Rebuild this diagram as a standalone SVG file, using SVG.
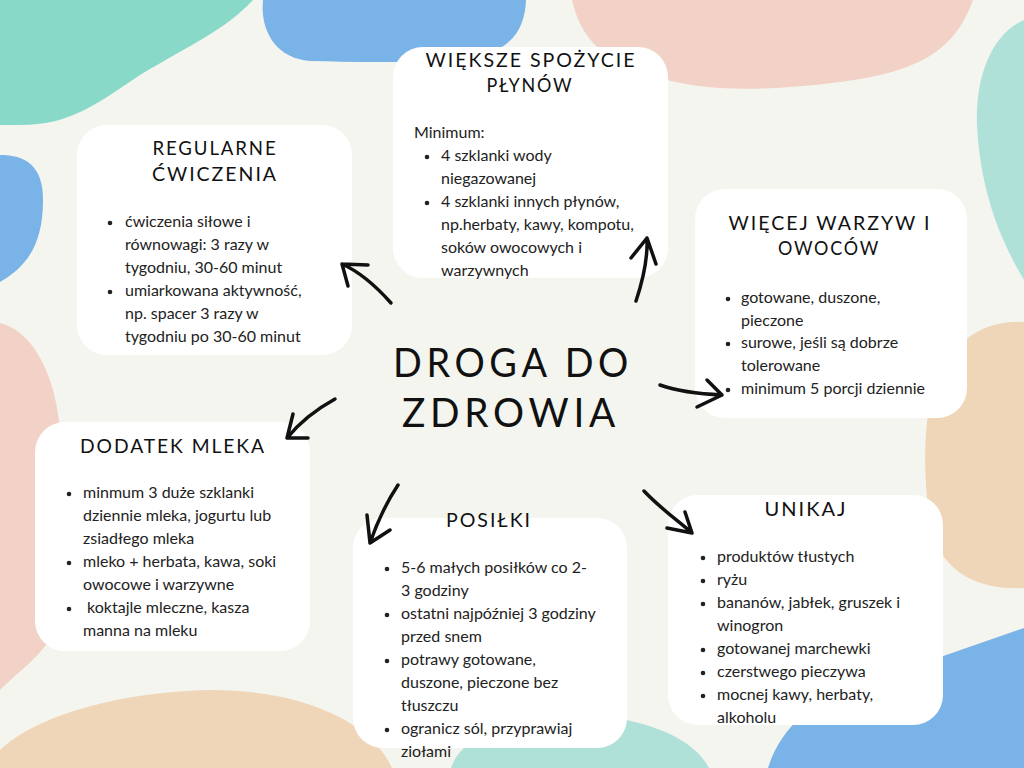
<svg xmlns="http://www.w3.org/2000/svg" width="1024" height="768" viewBox="0 0 1024 768">
<style>
.bg{fill:#f5f5f0}
.teal{fill:#88d9c8}
.teal2{fill:#afe1d9}
.blue{fill:#7ab3e7}
.pink{fill:#f2d2c6}
.beige{fill:#f0d6b9}
.box{fill:#ffffff}
.title{font-family:"Lato","DejaVu Sans",sans-serif;font-size:20px;fill:#111;text-anchor:middle;letter-spacing:2px}
.main{font-family:"Lato","DejaVu Sans",sans-serif;font-size:41px;fill:#111;text-anchor:middle;letter-spacing:5px}
.body{font-family:"Lato","DejaVu Sans",sans-serif;font-size:16px;fill:#222}
.dot{fill:#222}
.arr{fill:none;stroke:#111;stroke-width:3.5;stroke-linecap:round;stroke-linejoin:round}
</style>
<rect class="bg" x="0" y="0" width="1024" height="768"/>
<g id="background">
<path class="teal" d="M0,0 L253,0 C225,30 190,45 140,75 C95,105 70,125 20,125 L0,125 Z"/>
<path class="blue" d="M263,0 C260,30 275,58 310,61 C350,62 400,63 460,60 C510,55 525,30 526,0 Z"/>
<path class="pink" d="M572,0 C580,35 600,60 650,75 C700,92 760,92 840,82 C920,72 955,50 973,0 Z"/>
<path class="teal2" d="M1024,20 C990,35 975,80 977,125 C980,190 1000,240 1024,280 Z"/>
<path class="blue" d="M0,155 C25,155 43,165 43,200 C43,240 30,265 0,282 Z"/>
<path class="pink" d="M0,323 C30,330 55,370 60,430 L60,620 C50,650 20,670 0,690 Z"/>
<path class="beige" d="M1024,322 C990,320 960,335 940,370 C920,410 922,500 935,540 C950,580 990,590 1024,588 Z"/>
<path class="beige" d="M0,750 C30,720 110,692 210,690 C300,690 370,720 392,768 L0,768 Z"/>
<path class="teal2" d="M451,768 C460,740 500,720 560,715 C620,712 690,730 709,768 Z"/>
<path class="blue" d="M1024,628 L860,685 C810,700 780,730 768,768 L1024,768 Z"/>
</g>
<g id="node-plyny">
<rect class="box" x="393" y="47" width="275" height="231" rx="30"/>
<text class="title" x="531" y="67" textLength="211" lengthAdjust="spacingAndGlyphs">WIĘKSZE SPOŻYCIE</text>
<text class="title" x="530" y="92" textLength="87" lengthAdjust="spacingAndGlyphs">PŁYNÓW</text>
<text class="body" x="414" y="138">Minimum:</text>
<circle class="dot" cx="427" cy="157" r="2.3"/>
<text class="body" x="441" y="161">4 szklanki wody</text>
<text class="body" x="441" y="184">niegazowanej</text>
<circle class="dot" cx="427" cy="203" r="2.3"/>
<text class="body" x="441" y="207">4 szklanki innych płynów,</text>
<text class="body" x="441" y="230">np.herbaty, kawy, kompotu,</text>
<text class="body" x="441" y="253">soków owocowych i</text>
<text class="body" x="441" y="276">warzywnych</text>
</g>
<g id="node-cwiczenia">
<rect class="box" x="77" y="125" width="275" height="230" rx="30"/>
<text class="title" x="215" y="155" textLength="125" lengthAdjust="spacingAndGlyphs">REGULARNE</text>
<text class="title" x="215" y="181" textLength="126" lengthAdjust="spacingAndGlyphs">ĆWICZENIA</text>
<circle class="dot" cx="110" cy="223" r="2.3"/>
<text class="body" x="125" y="227">ćwiczenia siłowe i</text>
<text class="body" x="125" y="250">równowagi: 3 razy w</text>
<text class="body" x="125" y="273">tygodniu, 30-60 minut</text>
<circle class="dot" cx="110" cy="292" r="2.3"/>
<text class="body" x="125" y="296">umiarkowana aktywność,</text>
<text class="body" x="125" y="319">np. spacer 3 razy w</text>
<text class="body" x="125" y="342">tygodniu po 30-60 minut</text>
</g>
<g id="node-warzywa">
<rect class="box" x="695" y="189" width="272" height="229" rx="30"/>
<text class="title" x="830" y="230" textLength="203" lengthAdjust="spacingAndGlyphs">WIĘCEJ WARZYW I</text>
<text class="title" x="829" y="255" textLength="102" lengthAdjust="spacingAndGlyphs">OWOCÓW</text>
<circle class="dot" cx="728" cy="299" r="2.3"/>
<text class="body" x="741" y="303">gotowane, duszone,</text>
<text class="body" x="741" y="326">pieczone</text>
<circle class="dot" cx="728" cy="344" r="2.3"/>
<text class="body" x="741" y="348">surowe, jeśli są dobrze</text>
<text class="body" x="741" y="371">tolerowane</text>
<circle class="dot" cx="728" cy="390" r="2.3"/>
<text class="body" x="741" y="394">minimum 5 porcji dziennie</text>
</g>
<g id="node-mleko">
<rect class="box" x="35" y="422" width="275" height="229" rx="30"/>
<text class="title" x="173" y="453" textLength="186" lengthAdjust="spacingAndGlyphs">DODATEK MLEKA</text>
<circle class="dot" cx="69" cy="494" r="2.3"/>
<text class="body" x="83" y="498">minmum 3 duże szklanki</text>
<text class="body" x="83" y="521">dziennie mleka, jogurtu lub</text>
<text class="body" x="83" y="544">zsiadłego mleka</text>
<circle class="dot" cx="69" cy="563" r="2.3"/>
<text class="body" x="83" y="567">mleko + herbata, kawa, soki</text>
<text class="body" x="83" y="590">owocowe i warzywne</text>
<circle class="dot" cx="69" cy="609" r="2.3"/>
<text class="body" x="83" y="613" xml:space="preserve"> koktajle mleczne, kasza</text>
<text class="body" x="83" y="636">manna na mleku</text>
</g>
<g id="node-posilki">
<rect class="box" x="353" y="518" width="274" height="230" rx="30"/>
<text class="title" x="489" y="527" textLength="86" lengthAdjust="spacingAndGlyphs">POSIŁKI</text>
<circle class="dot" cx="387" cy="569" r="2.3"/>
<text class="body" x="401" y="573">5-6 małych posiłków co 2-</text>
<text class="body" x="401" y="596">3 godziny</text>
<circle class="dot" cx="387" cy="615" r="2.3"/>
<text class="body" x="401" y="619">ostatni najpóźniej 3 godziny</text>
<text class="body" x="401" y="642">przed snem</text>
<circle class="dot" cx="387" cy="661" r="2.3"/>
<text class="body" x="401" y="665">potrawy gotowane,</text>
<text class="body" x="401" y="688">duszone, pieczone bez</text>
<text class="body" x="401" y="711">tłuszczu</text>
<circle class="dot" cx="387" cy="730" r="2.3"/>
<text class="body" x="401" y="734">ogranicz sól, przyprawiaj</text>
<text class="body" x="401" y="757">ziołami</text>
</g>
<g id="node-unikaj">
<rect class="box" x="668" y="495" width="275" height="230" rx="30"/>
<text class="title" x="806" y="516" textLength="83" lengthAdjust="spacingAndGlyphs">UNIKAJ</text>
<circle class="dot" cx="703" cy="558" r="2.3"/>
<text class="body" x="717" y="562">produktów tłustych</text>
<circle class="dot" cx="703" cy="581" r="2.3"/>
<text class="body" x="717" y="585">ryżu</text>
<circle class="dot" cx="703" cy="604" r="2.3"/>
<text class="body" x="717" y="608">bananów, jabłek, gruszek i</text>
<text class="body" x="717" y="631">winogron</text>
<circle class="dot" cx="703" cy="650" r="2.3"/>
<text class="body" x="717" y="654">gotowanej marchewki</text>
<circle class="dot" cx="703" cy="673" r="2.3"/>
<text class="body" x="717" y="677">czerstwego pieczywa</text>
<circle class="dot" cx="703" cy="696" r="2.3"/>
<text class="body" x="717" y="700">mocnej kawy, herbaty,</text>
<text class="body" x="717" y="723">alkoholu</text>
</g>
<g id="node-center">
<text class="main" x="513" y="377" textLength="240" lengthAdjust="spacingAndGlyphs">DROGA DO</text>
<text class="main" x="511" y="427" textLength="218" lengthAdjust="spacingAndGlyphs">ZDROWIA</text>
</g>
<g id="connectors">
<path class="arr" d="M391,303 C375,285 360,272 342,264 M342,264 L368,265 M342,264 L348,286"/>
<path class="arr" d="M636,301 C643,280 648,260 647,238 M647,238 L631,258 M647,238 L656,264"/>
<path class="arr" d="M660,385 C680,392 700,394 722,395 M722,395 L707,380 M722,395 L697,407"/>
<path class="arr" d="M335,399 C315,410 300,422 287,438 M287,438 L293,414 M287,438 L308,438"/>
<path class="arr" d="M398,485 C388,500 378,520 370,543 M370,543 L367,515 M370,543 L390,530"/>
<path class="arr" d="M644,491 C660,508 677,520 692,533 M692,533 L667,528 M692,533 L685,512"/>
</g>
</svg>
